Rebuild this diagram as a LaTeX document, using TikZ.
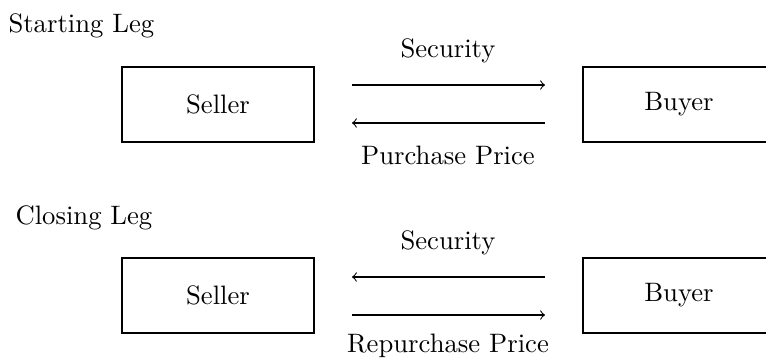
\documentclass[tikz,border=0pt]{standalone}
\usetikzlibrary{arrows}
\begin{document}
\begin{tikzpicture}[x=0.375pt,y=-0.375pt,
  party/.style={draw,line width=0.5pt,minimum width=72pt,minimum height=28.125pt,inner sep=0pt},
  lbl/.style={inner sep=0pt},
  flow/.style={->,line width=0.4pt}]
\useasboundingbox (0,0) rectangle (766,358);
\clip (0,0) rectangle (766,358);
% Starting leg
\node[lbl,anchor=west] (start) at (8,26) {Starting Leg};
\node[party] (s1) at (218,104.5) {Seller};
\node[party] (b1) at (679,104.5) {Buyer};
\coordinate (a1l) at (352,85);
\coordinate (a1r) at (545,85);
\coordinate (a2l) at (352,123);
\coordinate (a2r) at (545,123);
\draw[flow] (a1l) -- (a1r);
\draw[flow] (a2r) -- (a2l);
\node[lbl] (sec1) at (448,51) {Security};
\node[lbl] (pp) at (448,155) {Purchase Price};
% Closing leg
\node[lbl,anchor=west] (close) at (15,218) {Closing Leg};
\node[party] (s2) at (218,295.5) {Seller};
\node[party] (b2) at (679,295.5) {Buyer};
\coordinate (a3l) at (352,277);
\coordinate (a3r) at (545,277);
\coordinate (a4l) at (352,315);
\coordinate (a4r) at (545,315);
\draw[flow] (a3r) -- (a3l);
\draw[flow] (a4l) -- (a4r);
\node[lbl] (sec2) at (448,243) {Security};
\node[lbl] (rp) at (448,346) {Repurchase Price};
\end{tikzpicture}
\end{document}
